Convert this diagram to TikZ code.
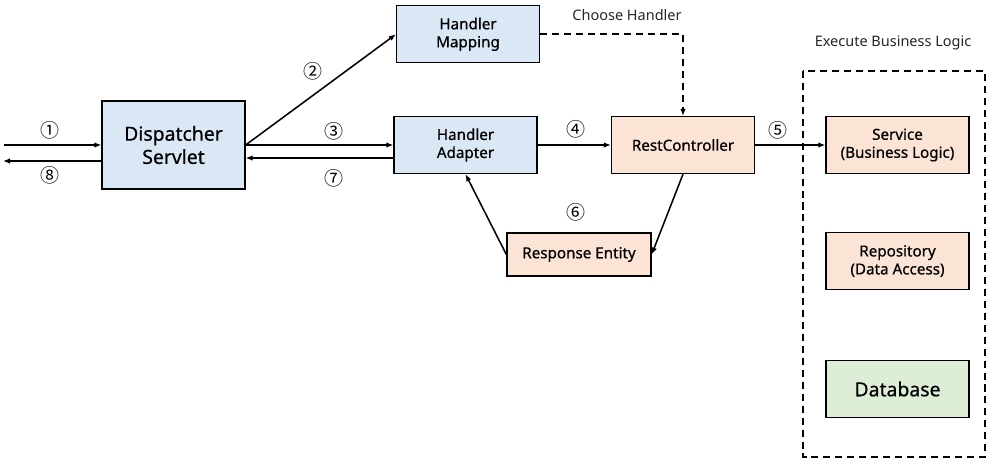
\documentclass[tikz,border=0pt]{standalone}
\usepackage{fontspec}
\setmainfont{Noto Sans}
\newfontfamily\kastenfont{Noto Sans}[FakeBold=0.6]
\newfontfamily\nummer{Noto Sans CJK KR}
\usetikzlibrary{arrows.meta}
\definecolor{blau}{RGB}{218,232,245}
\definecolor{orange}{RGB}{251,228,213}
\definecolor{gruen}{RGB}{221,237,214}
\begin{document}
\begin{tikzpicture}[x=0.025cm, y=-0.025cm,
  kasten/.style={draw, line width=0.9pt, minimum width=3.575cm, minimum height=1.425cm, align=center, font=\kastenfont\fontsize{10.8}{12.8}\selectfont},
  pfeil/.style={-{Latex[length=5pt,width=4pt]}, line width=1.1pt},
  nr/.style={font=\nummer\fontsize{13.5}{14}\selectfont},
  titel/.style={font=\fontsize{10.3}{12}\selectfont, text=black!85}]
  \useasboundingbox (0,0) rectangle (992,473);
  % Kaesten
  \node[kasten, fill=blau, minimum height=2.2cm, font=\kastenfont\fontsize{13.8}{16.5}\selectfont] (ds) at (173.5,145) {Dispatcher\\Servlet};
  \node[kasten, fill=blau] (hm) at (468,34.3) {Handler\\Mapping};
  \node[kasten, fill=blau] (ha) at (465.5,145) {Handler\\Adapter};
  \node[kasten, fill=orange] (rc) at (683,145) {RestController};
  \node[kasten, fill=orange, minimum width=3.6cm, minimum height=1.075cm] (re) at (579,254.5) {Response Entity};
  \node[kasten, fill=orange] (svc) at (897.5,145) {Service\\(Business Logic)};
  \node[kasten, fill=orange] (repo) at (897.5,261) {Repository\\(Data Access)};
  \node[kasten, fill=gruen, font=\kastenfont\fontsize{13.8}{16.5}\selectfont] (db) at (897.5,389) {Database};
  % Rahmen
  \draw[line width=1.1pt, dash pattern=on 5pt off 3.5pt] (803,71) rectangle (985,457);
  \node[titel] (cb) at (627,15) {Choose Handler};
  \node[titel] (eb) at (893,43) {Execute Business Logic};
  % Pfeile
  \coordinate (ein) at (4,145);
  \coordinate (aus) at (3,161);
  \draw[pfeil] (ein) -- (ds.west);
  \draw[pfeil] ([yshift=-0.4cm]ds.west) -- (aus);
  \draw[pfeil] (ds.east) -- (hm.west);
  \draw[pfeil] (ds.east) -- (ha.west);
  \draw[pfeil] ([yshift=-0.325cm]ha.west) -- ([yshift=-0.325cm]ds.east);
  \draw[pfeil] (ha) -- (rc);
  \draw[pfeil] (rc) -- (svc);
  \draw[pfeil, line width=1.3pt, dash pattern=on 5pt off 3.5pt] (hm.east) -| (rc.north);
  \draw[pfeil] (rc.south) -- (re.east);
  \draw[pfeil] (re.west) -- (ha.south);
  % Nummern
  \node[nr] (n1) at (50,130) {①};
  \node[nr] (n2) at (313,71) {②};
  \node[nr] (n3) at (334,131) {③};
  \node[nr] (n4) at (576,129) {④};
  \node[nr] (n5) at (778,130) {⑤};
  \node[nr] (n6) at (576,212) {⑥};
  \node[nr] (n7) at (334,178) {⑦};
  \node[nr] (n8) at (50,175) {⑧};
\end{tikzpicture}
\end{document}
